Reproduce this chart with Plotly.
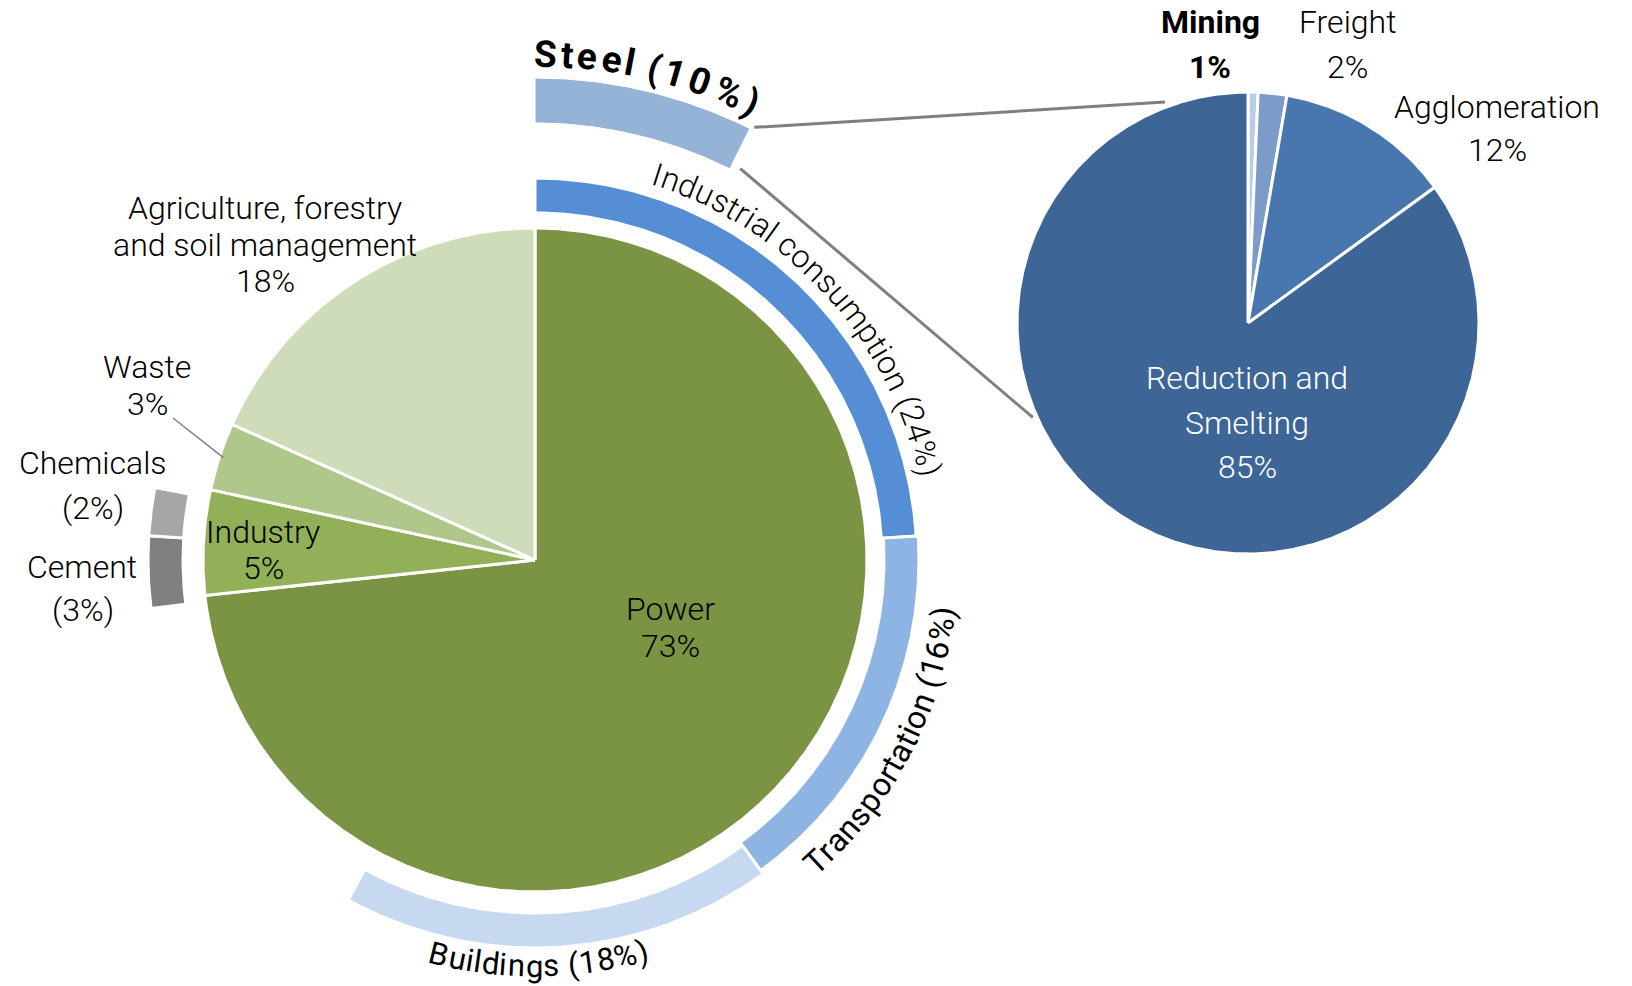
import numpy as np
import plotly.graph_objects as go

# ---------------- data ----------------
sector_names = ["Power", "Industry", "Waste", "Agriculture, forestry|and soil management"]
sector_values = [73.3, 5.1, 3.3, 18.3]
sector_colors = ["#7A9444", "#92B057", "#AFC78A", "#CFDCBA"]

# outer ring series (blank parts are hidden)
ring_names = ["Industrial consumption", "Transportation", "Buildings", "", "Cement", "Chemicals", ""]
ring_values = [24, 16, 18, 15, 3, 2, 22]
ring_colors = ["#558ED5", "#8EB4E3", "#C6D9F1", None, "#808080", "#A6A6A6", None]

# steel ring series: steel share + hidden remainder
steel_name = "Steel"
steel_values = [10, 126]
steel_color = "#95B3D7"

# steel breakdown pie
steel_sub_names = ["Mining", "Freight", "Agglomeration", "Reduction and|Smelting"]
steel_sub_values = [0.7, 2.0, 12.3, 85.0]
steel_sub_colors = ["#B9CDE5", "#7C9BC8", "#4876AE", "#3D6596"]

# ---------------- layout parameters ----------------
W, H = 1632, 986
C1 = (535.0, 560.0)       # main pie centre (px)
R_PIE = 332
R_RING = (347, 382)
RING_SHIFT = [0, 2, 6, 0, 5, 5, 0]   # small outward offsets of ring segments
R_STEEL = (437, 482)
C2 = (1248.0, 323.0)      # steel pie centre
R2 = 231
FONT = "Roboto"
FW = 300
FS = 32
GREY = "#7F7F7F"


def pt(c, r, th):
    t = np.radians(th)
    return c[0] + r * np.sin(t), c[1] - r * np.cos(t)


def wedge(c, r, a0, a1):
    th = np.linspace(a0, a1, max(int(abs(a1 - a0) * 3), 3))
    xs, ys = pt(c, r, th)
    return [c[0], *xs, c[0]], [c[1], *ys, c[1]]


def band(c, r0, r1, a0, a1):
    th = np.linspace(a0, a1, max(int(abs(a1 - a0) * 3), 3))
    xo, yo = pt(c, r1, th)
    xi, yi = pt(c, r0, th[::-1])
    xs = [*xo, *xi, xo[0]]
    ys = [*yo, *yi, yo[0]]
    return xs, ys


def bounds(values):
    v = np.asarray(values, dtype=float)
    cum = np.concatenate([[0], np.cumsum(v)]) / v.sum() * 360.0
    return cum[:-1], cum[1:]


fig = go.Figure()


def add_poly(xs, ys, color, lw=3):
    fig.add_trace(go.Scatter(x=xs, y=ys, mode="lines", fill="toself", fillcolor=color,
                             line=dict(color="white", width=lw), hoverinfo="skip",
                             showlegend=False))


# main pie
a0s, a1s = bounds(sector_values)
for a0, a1, col in zip(a0s, a1s, sector_colors):
    xs, ys = wedge(C1, R_PIE, a0, a1)
    add_poly(xs, ys, col)

# outer ring
r0s, r1s = bounds(ring_values)
for a0, a1, col, sh in zip(r0s, r1s, ring_colors, RING_SHIFT):
    if col is None:
        continue
    xs, ys = band(C1, R_RING[0] + sh, R_RING[1] + sh, a0, a1)
    add_poly(xs, ys, col)

# steel ring
s0s, s1s = bounds(steel_values)
xs, ys = band(C1, R_STEEL[0], R_STEEL[1], s0s[0], s1s[0])
add_poly(xs, ys, steel_color, lw=1)
steel_end = s1s[0]

# steel breakdown pie
b0s, b1s = bounds(steel_sub_values)
for a0, a1, col in zip(b0s, b1s, steel_sub_colors):
    xs, ys = wedge(C2, R2, a0, a1)
    add_poly(xs, ys, col)

# connector lines
p1 = pt(C1, R_STEEL[1] + 3, steel_end + 0.4)
q1 = pt(C2, R2 + 5, 339.4)
p2 = pt(C1, R_STEEL[0] + 5, steel_end + 1.2)
q2 = pt(C2, R2 + 4, 246.3)
for p, q in [(p1, q1), (p2, q2)]:
    fig.add_trace(go.Scatter(x=[p[0], q[0]], y=[p[1], q[1]], mode="lines",
                             line=dict(color=GREY, width=3), hoverinfo="skip", showlegend=False))

# waste leader line
waste_mid = (a0s[2] + a1s[2]) / 2
wp = pt(C1, R_PIE - 4, waste_mid)
fig.add_trace(go.Scatter(x=[173, wp[0]], y=[418, wp[1]], mode="lines",
                         line=dict(color=GREY, width=1.5), hoverinfo="skip", showlegend=False))

annotations = []


def label(x, y, text, size=FS, color="black", bold=False):
    annotations.append(dict(x=x, y=y, xref="x", yref="y", text=text, showarrow=False,
                            xanchor="center", yanchor="middle",
                            font=dict(family=FONT, size=size, color=color,
                                      weight=700 if bold else FW)))


def pct(v):
    return f"{v:.0f}%"


# main pie labels
agri = sector_names[3].split("|")
label(265, 208, agri[0]); label(265, 245, agri[1]); label(265, 281, pct(sector_values[3]))
label(147, 367, sector_names[2]); label(147, 404, pct(sector_values[2]))
label(263, 532, sector_names[1]); label(263, 568, pct(sector_values[1]))
label(670, 609, sector_names[0]); label(670, 646, pct(sector_values[0]))
label(93, 463, ring_names[5]); label(93, 508, f"({ring_values[5]}%)")
label(82, 567, ring_names[4]); label(83, 610, f"({ring_values[4]}%)")

# steel pie labels
label(1210, 22, steel_sub_names[0], bold=True); label(1210, 67, pct(steel_sub_values[0]), bold=True)
label(1347, 22, steel_sub_names[1]); label(1347, 67, pct(steel_sub_values[1]))
label(1497, 107, steel_sub_names[2]); label(1497, 150, pct(steel_sub_values[2]))
red = steel_sub_names[3].split("|")
label(1247, 378, red[0], color="white"); label(1247, 423, red[1], color="white")
label(1247, 467, pct(steel_sub_values[3]), color="white")

# curved labels
W_REG = {" ": .248, "(": .342, ")": .348, "%": .733, "A": .653, "B": .622, "I": .272, "S": .593,
         "T": .603, "a": .544, "c": .524, "d": .563, "e": .530, "g": .561, "i": .243, "l": .243,
         "m": .877, "n": .552, "o": .570, "p": .561, "r": .338, "s": .516, "t": .327, "u": .551}


def cw(ch, bold):
    w = W_REG.get(ch, .562)
    return w * (1.04 if bold else 1.0)


def curved(text, c, r, th_first, th_last, size, weight=FW, outward=True):
    bold = weight >= 600
    w = np.array([cw(ch, bold) for ch in text])
    centers = np.cumsum(w) - w / 2
    frac = (centers - centers[0]) / (centers[-1] - centers[0])
    for ch, f in zip(text, frac):
        if ch == " ":
            continue
        th = th_first + f * (th_last - th_first)
        x, y = pt(c, r, th)
        ang = th if outward else th - 180
        annotations.append(dict(x=x, y=y, xref="x", yref="y", text=ch, showarrow=False,
                                xanchor="center", yanchor="middle", textangle=ang,
                                font=dict(family=FONT, size=size, color="black",
                                          weight=weight)))


curved(f"{steel_name} ({steel_values[0]}%)", C1, 506, 1.2, 25.3, 37, weight=700)
curved(f"{ring_names[0]} ({ring_values[0]}%)", C1, 404, 17.7, 77.2, FS)
curved(f"{ring_names[1]} ({ring_values[1]}%)", C1, 412, 137.1, 97.3, FS, weight=400, outward=False)
curved(f"{ring_names[2]} ({ring_values[2]}%)", C1, 406, 193.7, 164.6, 31, weight=400, outward=False)

fig.update_layout(
    width=W, height=H, autosize=False,
    margin=dict(l=0, r=0, t=0, b=0, pad=0),
    paper_bgcolor="white", plot_bgcolor="white",
    xaxis=dict(range=[0, W], visible=False, fixedrange=True),
    yaxis=dict(range=[H, 0], visible=False, fixedrange=True),
    annotations=annotations,
    showlegend=False,
)

fig.write_html("out.html", config={"displayModeBar": False},
               post_script="document.body.style.margin='0';document.body.style.overflow='hidden';")
